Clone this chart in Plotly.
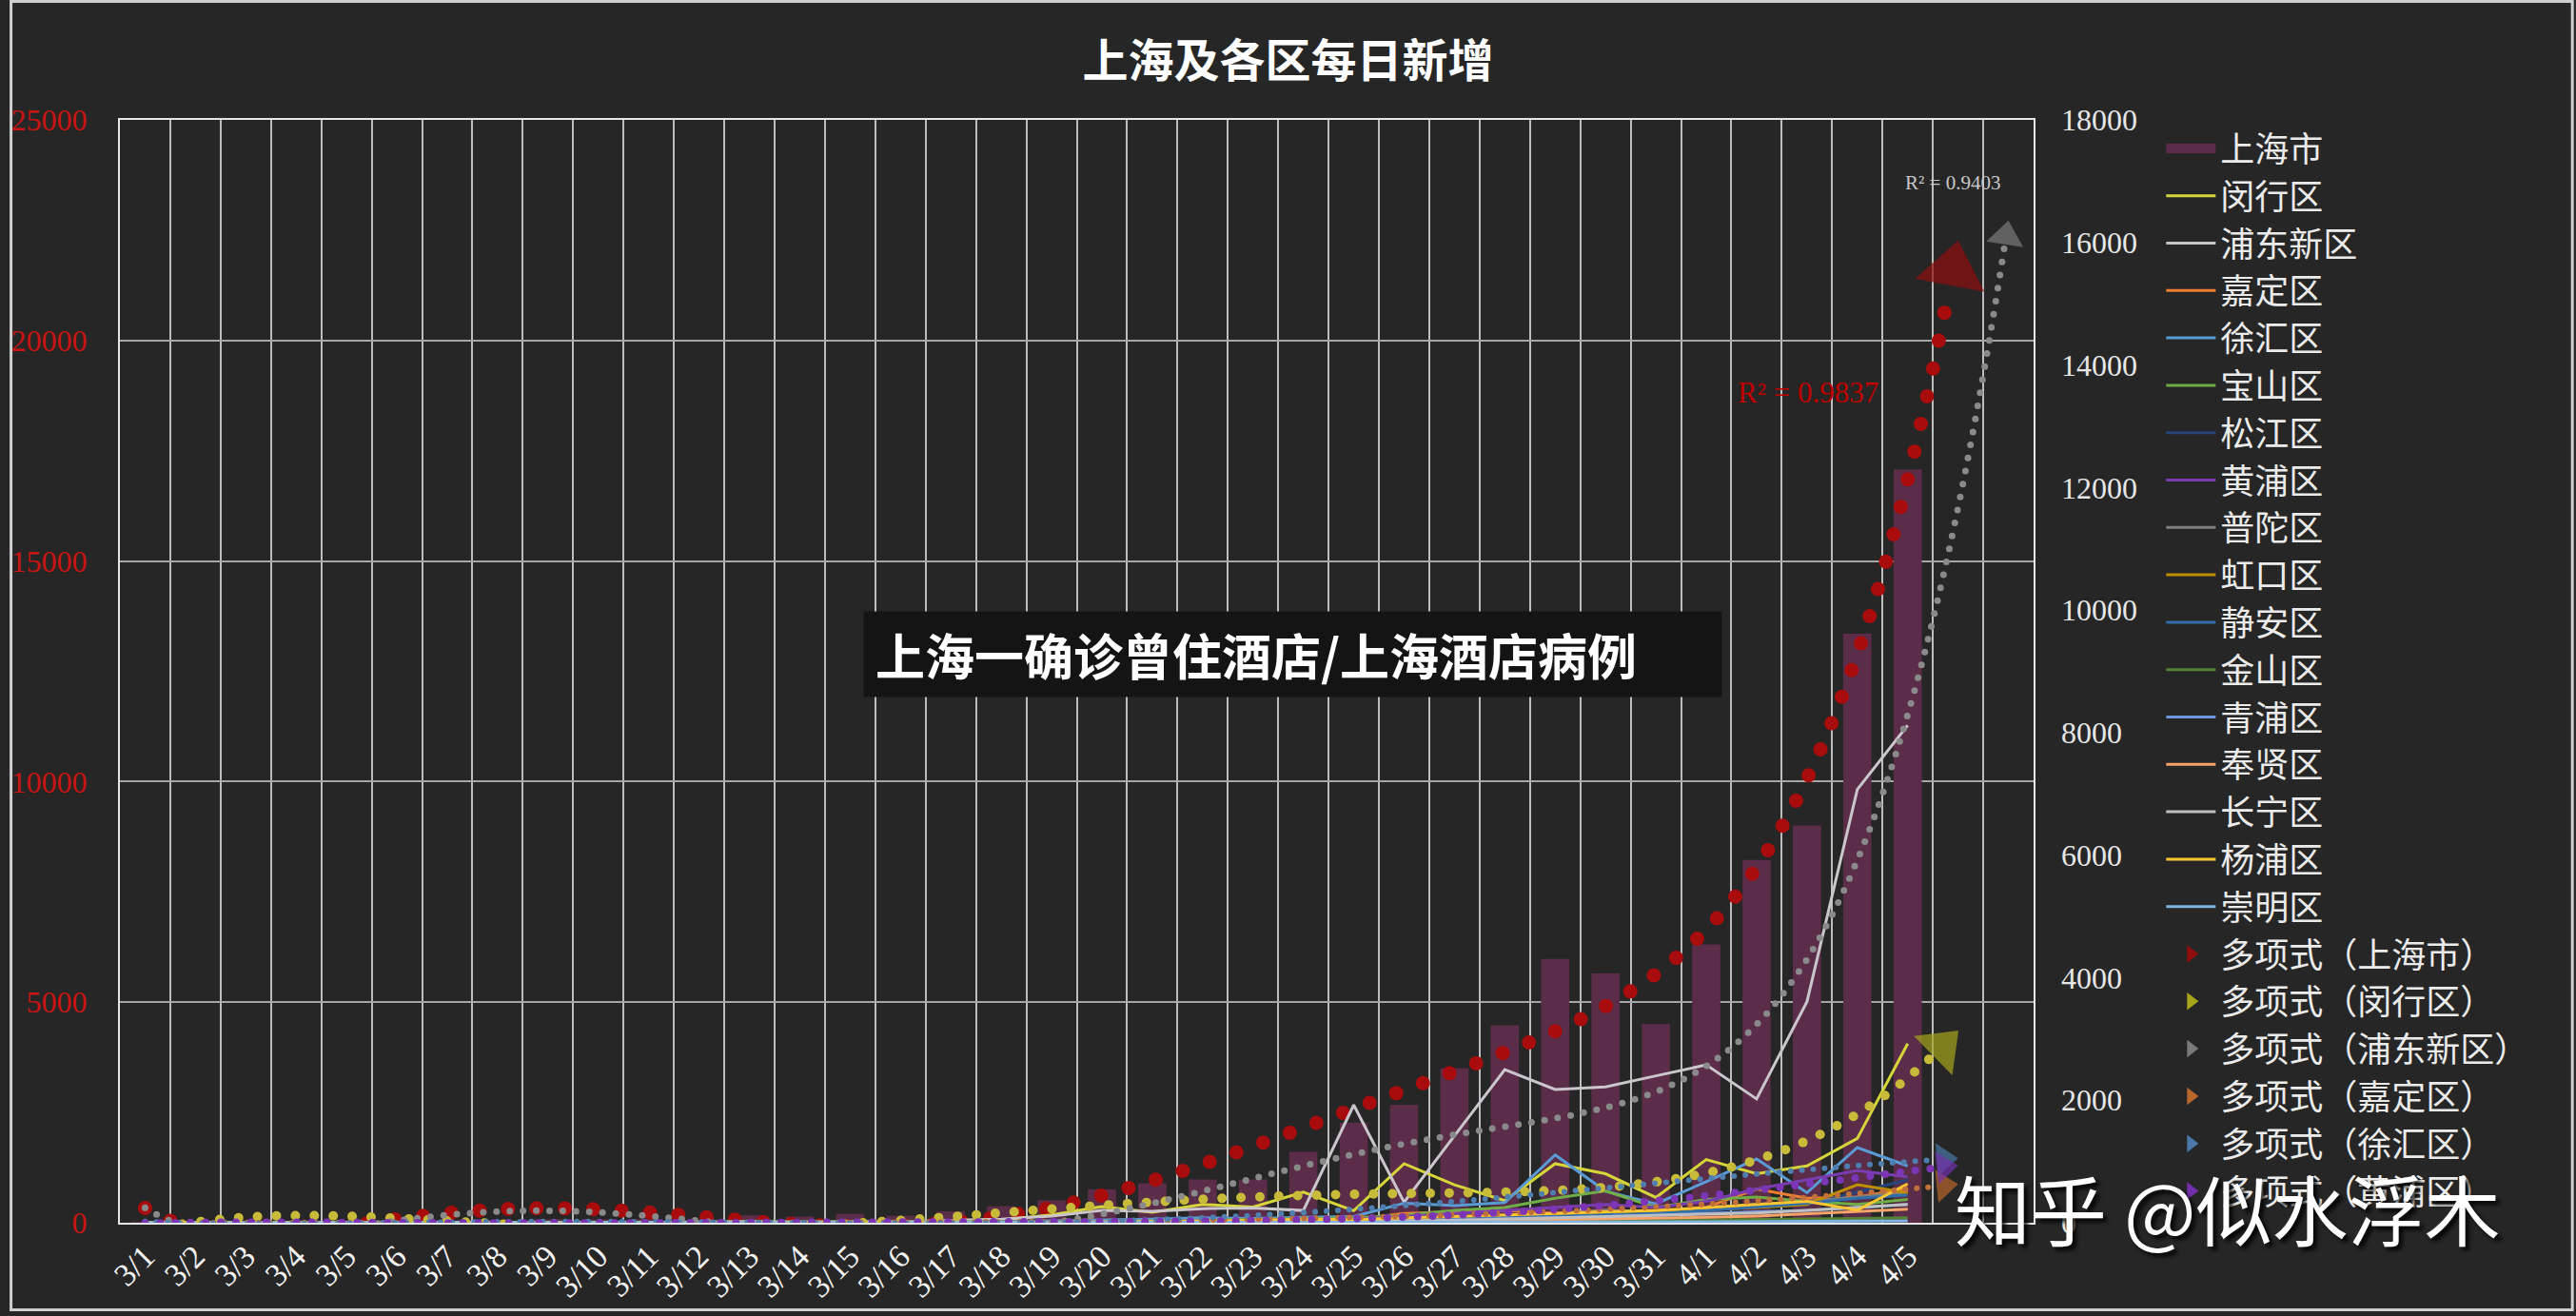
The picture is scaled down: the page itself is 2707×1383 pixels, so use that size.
import numpy as np
import plotly.graph_objects as go

# ---------------- data ----------------
dates = ["3/1", "3/2", "3/3", "3/4", "3/5", "3/6", "3/7", "3/8", "3/9", "3/10",
         "3/11", "3/12", "3/13", "3/14", "3/15", "3/16", "3/17", "3/18", "3/19", "3/20",
         "3/21", "3/22", "3/23", "3/24", "3/25", "3/26", "3/27", "3/28", "3/29", "3/30",
         "3/31", "4/1", "4/2", "4/3", "4/4", "4/5"]

shanghai = [2, 8, 16, 19, 28, 48, 55, 65, 80, 75,
            83, 65, 169, 139, 202, 158, 260, 374, 509, 758,
            896, 981, 983, 1609, 2269, 2676, 3500, 4477, 5982, 5653,
            4502, 6311, 8226, 9006, 13354, 17077]

minhang = [3, 2, 4, 3, 5, 4, 6, 3, 8, 5, 9, 6, 14, 8, 15, 10, 22, 45, 130, 263,
           170, 299, 258, 500, 196, 964, 619, 361, 964, 799, 412, 1031, 799, 928, 1376, 2923]
pudong = [0, 1, 0, 2, 3, 2, 5, 4, 3, 6, 4, 8, 20, 10, 15, 12, 40, 60, 110, 200,
          185, 230, 240, 200, 1922, 335, 1420, 2500, 2176, 2216, 2397, 2577, 2021, 3608, 7072, 8119]
jiading = [1, 0, 2, 1, 1, 3, 2, 2, 1, 3, 2, 4, 3, 5, 4, 6, 8, 10, 20, 30,
           40, 45, 50, 60, 50, 150, 180, 200, 150, 200, 150, 250, 550, 400, 420, 560]
xuhui = [0, 0, 1, 0, 2, 1, 3, 2, 2, 4, 3, 5, 6, 4, 8, 6, 10, 20, 30, 40,
         60, 80, 70, 90, 100, 320, 280, 330, 1108, 515, 309, 670, 1041, 490, 1227, 928]
baoshan = [0, 1, 0, 1, 2, 1, 2, 1, 3, 2, 2, 3, 5, 4, 6, 5, 8, 12, 15, 20,
           30, 40, 50, 60, 80, 120, 200, 250, 400, 520, 250, 380, 420, 350, 300, 380]
songjiang = [0, 0, 0, 1, 0, 1, 1, 0, 2, 1, 1, 2, 3, 2, 4, 3, 5, 8, 10, 15,
             20, 25, 30, 40, 50, 60, 80, 90, 100, 150, 120, 200, 250, 300, 500, 700]
huangpu = [0, 0, 1, 0, 1, 1, 2, 1, 1, 2, 1, 2, 3, 2, 3, 4, 5, 8, 10, 15,
           20, 30, 40, 50, 60, 100, 150, 200, 250, 300, 250, 350, 550, 700, 850, 750]
putuo = [0, 0, 0, 0, 1, 0, 1, 1, 0, 1, 2, 1, 2, 3, 2, 3, 4, 6, 10, 15,
         20, 25, 30, 35, 40, 60, 90, 120, 150, 200, 180, 250, 300, 350, 420, 500]
hongkou = [0, 0, 0, 1, 0, 0, 1, 0, 1, 1, 0, 1, 2, 1, 2, 2, 3, 5, 8, 12,
           15, 20, 25, 30, 35, 50, 80, 100, 120, 150, 180, 220, 250, 300, 619, 490]
jingan = [0, 0, 0, 0, 1, 0, 0, 1, 1, 0, 1, 1, 2, 2, 1, 3, 3, 4, 6, 10,
          12, 15, 20, 25, 30, 40, 60, 80, 100, 130, 150, 200, 260, 320, 400, 450]
jinshan = [0, 0, 0, 0, 0, 0, 0, 0, 0, 1, 0, 0, 1, 0, 1, 1, 1, 2, 3, 4,
           5, 6, 8, 10, 12, 15, 20, 25, 30, 40, 35, 45, 50, 60, 70, 80]
qingpu = [0, 0, 0, 0, 0, 0, 1, 0, 0, 1, 1, 0, 1, 1, 2, 1, 2, 3, 5, 8,
          10, 12, 15, 20, 25, 30, 50, 60, 80, 100, 120, 150, 180, 200, 250, 300]
fengxian = [0, 0, 0, 0, 0, 0, 0, 1, 0, 0, 1, 0, 0, 1, 1, 2, 2, 3, 4, 6,
            8, 10, 12, 15, 18, 20, 30, 40, 50, 60, 70, 90, 110, 150, 180, 220]
changning = [0, 0, 0, 0, 1, 0, 0, 0, 1, 0, 0, 1, 1, 1, 2, 2, 2, 3, 5, 8,
             10, 12, 15, 18, 20, 30, 40, 60, 80, 100, 120, 140, 160, 200, 250, 300]
yangpu = [0, 0, 0, 0, 0, 1, 0, 0, 0, 1, 0, 1, 1, 2, 1, 2, 3, 4, 8, 12,
          20, 30, 40, 60, 50, 80, 100, 120, 150, 180, 200, 250, 300, 350, 206, 634]
chongming = [0, 0, 0, 0, 0, 0, 0, 0, 0, 0, 0, 0, 0, 0, 0, 0, 0, 0, 1, 1,
             2, 2, 3, 3, 4, 5, 6, 8, 10, 12, 10, 15, 18, 20, 25, 30]

district_names = ["闵行区", "浦东新区", "嘉定区", "徐汇区", "宝山区", "松江区", "黄浦区", "普陀区",
                  "虹口区", "静安区", "金山区", "青浦区", "奉贤区", "长宁区", "杨浦区", "崇明区"]
district_values = [minhang, pudong, jiading, xuhui, baoshan, songjiang, huangpu, putuo,
                   hongkou, jingan, jinshan, qingpu, fengxian, changning, yangpu, chongming]
district_colors = ["#d6d63a", "#cac6cc", "#ed7d31", "#5b9bd5", "#70ad47", "#264478", "#7a3db0", "#7f7f7f",
                   "#bf9000", "#2f6ea8", "#548235", "#6f96dc", "#f4a46a", "#bfbfbf", "#fbc531", "#7fb3e0"]

# ---------------- geometry of the plot area ----------------
ML, MR, MT, MB = 116, 570, 126, 93
W, H = 2707, 1383
PW, PH = W - ML - MR, H - MT - MB
N_SLOTS = len(dates) + 2          # two forecast periods after the last date
PX_PER_X = PW / N_SLOTS
Y1_MAX, Y2_MAX = 25000, 18000

BG = "#262626"
BAR_COLOR = "#5b2d48"
SERIF = "Liberation Serif, Times New Roman, serif"
CJK = "Noto Sans CJK SC, sans-serif"

fig = go.Figure()

# legend swatch for the bar series (wide rectangle like the original legend)
fig.add_trace(go.Scatter(x=[None], y=[None], mode="lines", name="上海市",
                         line=dict(color=BAR_COLOR, width=14)))
fig.add_trace(go.Bar(x=list(range(len(dates))), y=shanghai, name="上海市", showlegend=False,
                     marker=dict(color=BAR_COLOR, line=dict(width=0)), yaxis="y"))

for name, vals, col in zip(district_names, district_values, district_colors):
    fig.add_trace(go.Scatter(x=list(range(len(dates))), y=vals, name=name, mode="lines",
                             line=dict(color=col, width=3), yaxis="y2"))


def poly_trend(vals, order, ymax, forward):
    """Polynomial trendline (as in a spreadsheet: x = 1..n), sampled by pixel arc length."""
    n = len(vals)
    coef = np.polyfit(np.arange(1, n + 1), vals, order)
    t = np.linspace(1, n + forward, 8000)
    yt = np.polyval(coef, t)
    px = t * PX_PER_X
    py = yt * PH / ymax
    s = np.concatenate([[0], np.cumsum(np.hypot(np.diff(px), np.diff(py)))])
    return t, yt, s


trends = [  # (label, values, axis, ymax, order, forward, dot size, dot color, arrow size, arrow color)
    ("多项式（上海市）", shanghai, "y", Y1_MAX, 6, 1, 15, "#a80c0c", 64, "#8e0e0e"),
    ("多项式（闵行区）", minhang, "y2", Y2_MAX, 5, 1, 10, "#c9bb3a", 50, "#a5a51c"),
    ("多项式（浦东新区）", pudong, "y2", Y2_MAX, 6, 2, 7, "#8a8a8a", 34, "#7a7a7a"),
    ("多项式（嘉定区）", jiading, "y2", Y2_MAX, 6, 1, 6, "#c0703a", 30, "#b8662e"),
    ("多项式（徐汇区）", xuhui, "y2", Y2_MAX, 6, 1, 6, "#4f7fae", 30, "#4a78a8"),
    ("多项式（黄浦区）", huangpu, "y2", Y2_MAX, 6, 1, 8, "#7b35b5", 30, "#7330ad"),
]

for label, vals, ax, ymax, order, fwd, dsz, dcol, asz, acol in trends:
    t, yt, s = poly_trend(vals, order, ymax, fwd)
    r = asz / 2.0
    arrow_len = 1.5 * r
    targets = np.arange(0, s[-1] - arrow_len, 2 * dsz)
    tx = np.interp(targets, s, t)
    ty = np.interp(targets, s, yt)
    fig.add_trace(go.Scatter(x=tx - 1, y=ty, mode="markers", yaxis=ax, showlegend=False,
                             marker=dict(color=dcol, size=dsz, line=dict(width=0)),
                             hoverinfo="skip"))
    sa = np.array([s[-1] - r - 3, s[-1] - r])
    fig.add_trace(go.Scatter(x=np.interp(sa, s, t) - 1, y=np.interp(sa, s, yt), mode="markers",
                             yaxis=ax, showlegend=False, hoverinfo="skip",
                             marker=dict(symbol="triangle-up", angleref="previous", size=[0, asz],
                                         color=acol, line=dict(width=0))))
    fig.add_trace(go.Scatter(x=[None], y=[None], mode="markers", yaxis=ax, name=label,
                             marker=dict(symbol="triangle-right", size=16, color=acol)))


def px_x(p):
    return (p - ML) / PW


def px_y(p):
    return (H - MB - p) / PH


fig.update_layout(
    width=W, height=H,
    margin=dict(l=ML, r=MR, t=MT, b=MB, pad=0),
    paper_bgcolor=BG, plot_bgcolor=BG,
    bargap=0.44,
    showlegend=True,
    title=dict(text="<b>上海及各区每日新增</b>", x=0.5, xref="container", xanchor="center",
               y=1 - 64 / H, yref="container", yanchor="middle",
               font=dict(family=CJK, size=48, color="#ffffff")),
    xaxis=dict(range=[-0.5, N_SLOTS - 0.5], tickmode="array", tickvals=list(range(len(dates))),
               ticktext=dates, tickangle=-45, tickfont=dict(family=SERIF, size=34, color="#f2f2f2"),
               showgrid=False, zeroline=False, ticks="",
               minor=dict(tickmode="array", tickvals=[k - 0.5 for k in range(N_SLOTS + 1)],
                          showgrid=True, gridcolor="#bdbdbd", gridwidth=1.5, ticks=""),
               showline=True, mirror=True, linecolor="#e6e6e6", linewidth=2),
    yaxis=dict(range=[0, Y1_MAX], dtick=5000, tickformat="d",
               tickfont=dict(family=SERIF, size=32, color="#c81414"),
               showgrid=True, gridcolor="#a6a6a6", gridwidth=1.5, zeroline=False,
               showline=True, mirror=True, linecolor="#e6e6e6", linewidth=2,
               ticklabelstandoff=26),
    yaxis2=dict(range=[0, Y2_MAX], dtick=2000, tickformat="d", overlaying="y", side="right",
                tickfont=dict(family=SERIF, size=32, color="#e6e6e6"),
                showgrid=False, zeroline=False, showline=False, ticklabelstandoff=28),
    legend=dict(x=px_x(2272), y=1.0, xanchor="left", yanchor="top", maxheight=1300,
                bgcolor="rgba(0,0,0,0)", font=dict(family=CJK, size=36, color="#ebebeb"),
                itemwidth=52, tracegroupgap=0, traceorder="normal"),
    annotations=[
        dict(text="R² = 0.9837", x=px_x(1899), y=px_y(414), xref="paper", yref="paper",
             xanchor="center", yanchor="middle",
             showarrow=False, font=dict(family=SERIF, size=31, color="#c00000")),
        dict(text="R² = 0.9403", x=px_x(2052), y=px_y(192), xref="paper", yref="paper",
             xanchor="center", yanchor="middle",
             showarrow=False, font=dict(family=SERIF, size=21, color="#c8c8c8")),
        dict(text="<b>上海一确诊曾住酒店/上海酒店病例</b>", x=px_x(901), y=px_y(690),
             xref="paper", yref="paper", xanchor="left", yanchor="middle", showarrow=False,
             align="left", width=877, height=65, borderpad=12, bgcolor="#141414",
             font=dict(family=CJK, size=52, color="#ffffff")),
        dict(text="知乎 @似水浮木", x=px_x(2342), y=px_y(1273), xref="paper", yref="paper",
             xanchor="center", yanchor="middle", showarrow=False,
             font=dict(family=CJK, size=80, color="#ffffff", shadow="4px 4px 4px rgba(0,0,0,0.85)")),
    ],
    shapes=[dict(type="rect", xref="paper", yref="paper", x0=px_x(1), x1=px_x(W - 1),
                 y0=px_y(H - 1), y1=px_y(1), line=dict(color="#cfcfcf", width=3), layer="above")],
)

fig.write_html("out.html")
